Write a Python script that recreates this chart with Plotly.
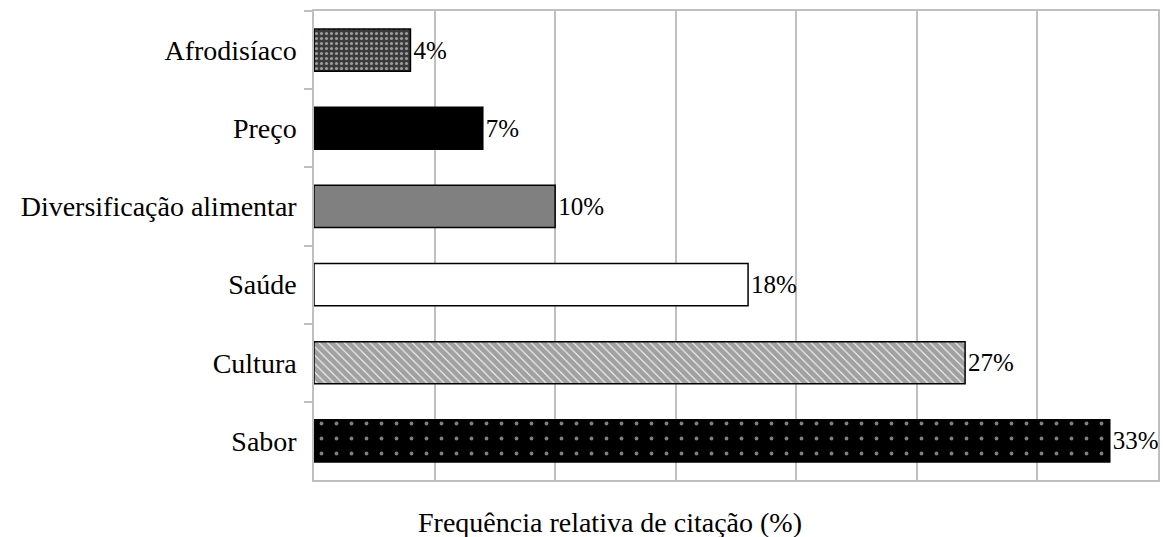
import plotly.graph_objects as go

categories = ["Afrodisíaco", "Preço", "Diversificação alimentar", "Saúde", "Cultura", "Sabor"]
values = [4, 7, 10, 18, 27, 33]
value_labels = ["4%", "7%", "10%", "18%", "27%", "33%"]
x_title = "Frequência relativa de citação (%)"

bar_colors = ["#3a3a3a", "black", "#808080", "white", "white", "black"]
pattern_shapes = [".", "", "", "", "\\", "."]
pattern_fg = ["white", "black", "#808080", "white", "black", "white"]
pattern_size = [5, 8, 8, 8, 6, 15]
pattern_solidity = [0.3, 0.3, 0.3, 0.3, 0.85, 0.05]

FONT = "Liberation Serif"
GRID = "#bfbfbf"
TEXT = "black"

fig = go.Figure()
fig.add_trace(go.Bar(
    y=categories,
    x=values,
    orientation="h",
    text=value_labels,
    textposition="outside",
    textfont=dict(family=FONT, size=25, color=TEXT),
    cliponaxis=False,
    width=0.54,
    marker=dict(
        color=bar_colors,
        line=dict(color="black", width=1.5),
        pattern=dict(
            shape=pattern_shapes,
            fgcolor=pattern_fg,
            size=pattern_size,
            solidity=pattern_solidity,
            fillmode="overlay",
        ),
    ),
    hoverinfo="skip",
))

fig.update_layout(
    width=1164,
    height=537,
    margin=dict(l=314, r=4, t=11, b=57),
    paper_bgcolor="white",
    plot_bgcolor="white",
    showlegend=False,
    font=dict(family=FONT, color=TEXT),
    xaxis=dict(
        range=[0, 35],
        dtick=5,
        tick0=0,
        showticklabels=False,
        showgrid=True,
        gridcolor=GRID,
        gridwidth=1.5,
        zeroline=False,
        showline=True,
        linecolor=GRID,
        linewidth=1.5,
        mirror=True,
        ticks="",
    ),
    yaxis=dict(
        autorange="reversed",
        tickson="boundaries",
        ticks="outside",
        ticklen=8,
        tickcolor=GRID,
        tickwidth=1.5,
        showline=True,
        linecolor=GRID,
        linewidth=1.5,
        mirror=True,
        showgrid=False,
        ticklabelstandoff=10,
        tickfont=dict(family=FONT, size=28, color=TEXT),
    ),
    annotations=[dict(
        text=x_title,
        xref="paper", yref="paper",
        x=(611 - 314) / 846, y=-42 / 469,
        xanchor="center", yanchor="middle",
        showarrow=False,
        font=dict(family=FONT, size=28, color=TEXT),
    )],
)

fig.write_html(
    "out.html",
    config={"displayModeBar": False},
    post_script="document.body.style.margin='0';document.body.style.overflow='hidden';",
)
